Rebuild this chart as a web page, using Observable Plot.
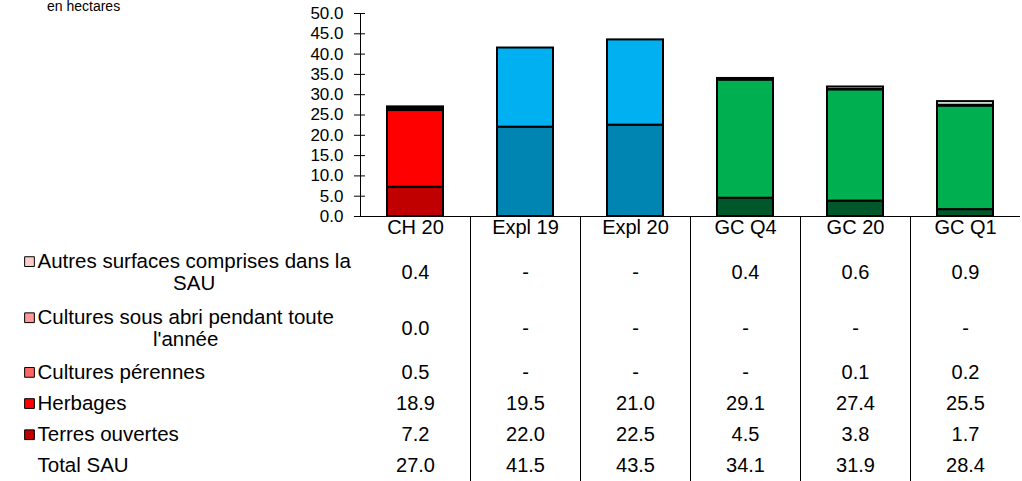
<!DOCTYPE html>
<html>
<head>
<meta charset="utf-8">
<script src="https://cdn.jsdelivr.net/npm/d3@7"></script>
<script src="https://cdn.jsdelivr.net/npm/@observablehq/plot@0.6"></script>
<style>
  html, body { margin: 0; padding: 0; background: #fff; overflow: hidden; }
  #wrap { position: relative; width: 1022px; height: 481px; font-family: "Liberation Sans", Arial, sans-serif; }
  #wrap svg { position: absolute; left: 0; top: 0; }
  #unit { position: absolute; left: 47px; top: -1px; font-size: 14px; line-height: 14px; color: #000; z-index: 2; }
</style>
</head>
<body>
<div id="wrap"><div id="unit">en hectares</div></div>
<script>
// ---------------- DATA ----------------
const categories = ["CH 20", "Expl 19", "Expl 20", "GC Q4", "GC 20", "GC Q1"];
const seriesNames = [
  "Terres ouvertes",
  "Herbages",
  "Cultures pérennes",
  "Cultures sous abri pendant toute l'année",
  "Autres surfaces comprises dans la SAU"
];
const terresOuvertes   = [7.2, 22.0, 22.5, 4.5, 3.8, 1.7];
const herbages         = [18.9, 19.5, 21.0, 29.1, 27.4, 25.5];
const culturesPerennes = [0.5, null, null, null, 0.1, 0.2];
const culturesSousAbri = [0.0, null, null, null, null, null];
const autresSurfaces   = [0.4, null, null, 0.4, 0.6, 0.9];
const totalSAU         = [27.0, 41.5, 43.5, 34.1, 31.9, 28.4];
const yTicks = [0, 5, 10, 15, 20, 25, 30, 35, 40, 45, 50];
// table row labels (top to bottom), wrapped as in the reference
const tableLabels = [
  ["Autres surfaces comprises dans la", "SAU"],
  ["Cultures sous abri pendant toute", "l'année"],
  ["Cultures pérennes"],
  ["Herbages"],
  ["Terres ouvertes"],
  ["Total SAU"]
];
const tableValues = [autresSurfaces, culturesSousAbri, culturesPerennes, herbages, terresOuvertes, totalSAU];

// ---------------- STYLE ----------------
// colours bottom -> top: terres, herbages, pérennes, sous abri, autres
const palettes = {
  CH:   ["#C00000", "#FF0000", "#FF6666", "#FF9999", "#FFCCCC"],
  Expl: ["#0085B2", "#00B0F0", "#66D0F6", "#99DFF9", "#CCEFFC"],
  GC:   ["#00582A", "#00B050", "#66D096", "#A8E4C2", "#DDF5E6"]
};
const tableSwatches = [palettes.CH[4], palettes.CH[3], palettes.CH[2], palettes.CH[1], palettes.CH[0], null];
const FONT = '"Liberation Sans", Arial, sans-serif';
const LABEL_SIZE = 20.5;
const W = 1022, H = 481;
const ML = 360, MR = 2, MT = 13, AXIS_Y = 216;

// ---------------- BAR CHART ----------------
const seriesValues = [terresOuvertes, herbages, culturesPerennes, culturesSousAbri, autresSurfaces];
const groupOf = c => c.split(" ")[0];
const bars = [];
categories.forEach((c, i) => {
  seriesValues.forEach((vals, s) => {
    if (vals[i] != null) bars.push({category: c, series: seriesNames[s], value: vals[i], color: palettes[groupOf(c)][s]});
  });
});

const chart = Plot.plot({
  width: W, height: H,
  marginTop: MT, marginBottom: H - AXIS_Y, marginLeft: ML, marginRight: MR,
  style: {fontFamily: FONT, background: "none", color: "#000"},
  x: {domain: categories, padding: 0, axis: null},
  y: {domain: [0, 50], axis: null},
  color: {type: "identity"},
  marks: [
    Plot.barY(bars, {x: "category", y: "value", fill: "color", stroke: "#000", strokeWidth: 2, insetLeft: 27, insetRight: 27}),
    Plot.ruleY([0], {stroke: "#000", strokeWidth: 1}),
    Plot.frame({anchor: "left", stroke: "#000"}),
    Plot.axisY({ticks: yTicks, tickFormat: d3.format(".1f"), label: null, tickSize: 11, dx: 5, tickPadding: 11, fontSize: 17, stroke: "#000", fill: "#000"})
  ]
});

// ---------------- DATA TABLE ----------------
// measure text width with a real SVG text node (same font as rendering)
function textWidth(str) {
  const svg = d3.select("body").append("svg").attr("width", 0).attr("height", 0).style("position", "absolute");
  const t = svg.append("text").attr("font-family", FONT).attr("font-size", LABEL_SIZE).text(str);
  const w = t.node().getComputedTextLength();
  svg.remove();
  return w;
}

const headerUnits = 0.9;
const rowUnits = tableLabels.map(l => l.length === 2 ? 1.8 : 1);
const totalUnits = headerUnits + d3.sum(rowUnits);
const unitPx = (H - AXIS_Y) / totalUnits;
const lineGap = 22 / unitPx; // distance between wrapped lines, in units
let cursor = headerUnits;
const rowCenters = rowUnits.map(u => { const c = cursor + u / 2; cursor += u; return c; });

const cells = [];
tableValues.forEach((vals, r) => vals.forEach((v, i) => cells.push({
  col: i + 0.5, y: rowCenters[r], text: v == null ? "-" : d3.format(".1f")(v)
})));

const labelFirst = tableLabels.map((lines, r) => ({
  y: lines.length === 2 ? rowCenters[r] - lineGap / 2 : rowCenters[r],
  text: lines[0], swatch: tableSwatches[r]
}));

const LABEL_X = 37;
const secondLineMarks = tableLabels.map((lines, r) => {
  if (lines.length < 2) return null;
  const w1 = textWidth(lines[0]);
  return Plot.text([{y: rowCenters[r] + lineGap / 2, text: lines[1]}], {
    y: "y", text: "text", frameAnchor: "left", textAnchor: "middle",
    dx: LABEL_X - ML + w1 / 2, fontSize: LABEL_SIZE, fill: "#000"
  });
}).filter(Boolean);

const table = Plot.plot({
  width: W, height: H,
  marginTop: AXIS_Y, marginBottom: 0, marginLeft: ML, marginRight: MR,
  style: {fontFamily: FONT, background: "none", color: "#000"},
  x: {domain: [0, categories.length], range: [ML, W - MR], axis: null},
  y: {domain: [0, totalUnits], range: [AXIS_Y, H], axis: null},
  color: {type: "identity"},
  marks: [
    Plot.ruleX(d3.range(1, categories.length), {stroke: "#000", strokeWidth: 1}),
    Plot.text(categories, {x: (d, i) => i + 0.5, y: () => headerUnits / 2, text: d => d, fontSize: 20, dy: -3, fill: "#000"}),
    Plot.text(cells, {x: "col", y: "y", text: "text", fontSize: 20, fill: "#000"}),
    Plot.text(labelFirst, {y: "y", text: "text", frameAnchor: "left", textAnchor: "start", dx: LABEL_X - ML, fontSize: LABEL_SIZE, fill: "#000"}),
    ...secondLineMarks,
    Plot.dot(labelFirst.filter(d => d.swatch), {y: "y", fill: "swatch", frameAnchor: "left", dx: 29 - ML, symbol: "square", r: 5.5, stroke: "#000", strokeWidth: 1})
  ]
});

const wrap = document.getElementById("wrap");
wrap.insertBefore(table, wrap.firstChild);
wrap.insertBefore(chart, wrap.firstChild);
</script>
</body>
</html>
